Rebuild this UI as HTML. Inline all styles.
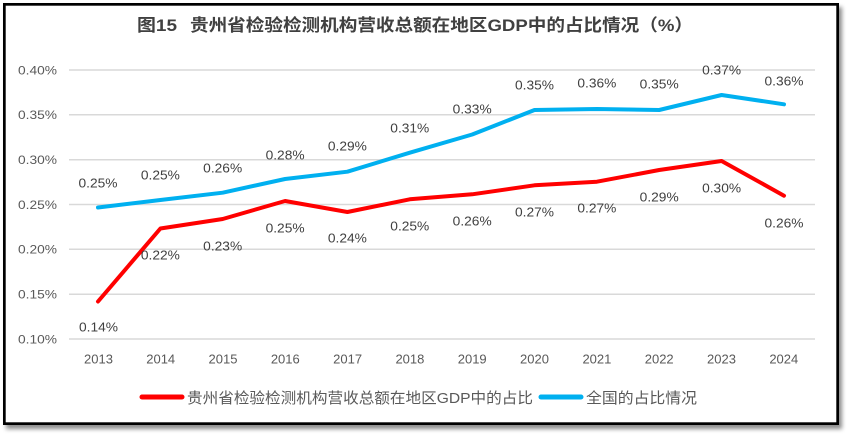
<!DOCTYPE html>
<html>
<head>
<meta charset="utf-8">
<style>
html,body{margin:0;padding:0;background:#fff;}
svg{display:block;}
text{font-family:"Liberation Sans","Noto Sans CJK SC",sans-serif;}
</style>
</head>
<body>
<svg width="849" height="437" viewBox="0 0 849 437" xmlns="http://www.w3.org/2000/svg">
  <defs>
    <filter id="sh" x="-5%" y="-5%" width="112%" height="115%">
      <feDropShadow dx="3" dy="4" stdDeviation="2" flood-color="#000" flood-opacity="0.45"/>
    </filter>
  </defs>
  <rect x="0" y="0" width="849" height="437" fill="#fff"/>
  <rect x="4.35" y="4.35" width="833.3" height="419.3" fill="#fff" stroke="#000" stroke-width="2.7" filter="url(#sh)"/>

  <!-- Title -->
  <text x="137" y="31" font-size="17" font-weight="bold" fill="#404040" textLength="40" lengthAdjust="spacingAndGlyphs">图15</text>
  <text x="190" y="31" font-size="17" font-weight="bold" fill="#404040" textLength="503" lengthAdjust="spacingAndGlyphs">贵州省检验检测机构营收总额在地区GDP中的占比情况（%）</text>

  <!-- Gridlines -->
  <g stroke="#d9d9d9" stroke-width="1.5">
    <line x1="69" y1="70" x2="815" y2="70"/>
    <line x1="69" y1="114.8" x2="815" y2="114.8"/>
    <line x1="69" y1="159.7" x2="815" y2="159.7"/>
    <line x1="69" y1="204.5" x2="815" y2="204.5"/>
    <line x1="69" y1="249.3" x2="815" y2="249.3"/>
    <line x1="69" y1="294.2" x2="815" y2="294.2"/>
    <line x1="69" y1="339" x2="815" y2="339"/>
  </g>

  <!-- Y axis labels -->
  <g font-size="12" fill="#595959" text-anchor="end">
    <text x="57" y="74.3" textLength="39" lengthAdjust="spacingAndGlyphs">0.40%</text>
    <text x="57" y="119.1" textLength="39" lengthAdjust="spacingAndGlyphs">0.35%</text>
    <text x="57" y="164" textLength="39" lengthAdjust="spacingAndGlyphs">0.30%</text>
    <text x="57" y="208.8" textLength="39" lengthAdjust="spacingAndGlyphs">0.25%</text>
    <text x="57" y="253.6" textLength="39" lengthAdjust="spacingAndGlyphs">0.20%</text>
    <text x="57" y="298.5" textLength="39" lengthAdjust="spacingAndGlyphs">0.15%</text>
    <text x="57" y="343.3" textLength="39" lengthAdjust="spacingAndGlyphs">0.10%</text>
  </g>

  <!-- X axis labels -->
  <g font-size="13" fill="#595959" text-anchor="middle">
    <text x="98.5" y="363.5">2013</text>
    <text x="160.7" y="363.5">2014</text>
    <text x="223" y="363.5">2015</text>
    <text x="285.3" y="363.5">2016</text>
    <text x="347.6" y="363.5">2017</text>
    <text x="409.9" y="363.5">2018</text>
    <text x="472.2" y="363.5">2019</text>
    <text x="534.5" y="363.5">2020</text>
    <text x="596.9" y="363.5">2021</text>
    <text x="659.2" y="363.5">2022</text>
    <text x="721.5" y="363.5">2023</text>
    <text x="783.8" y="363.5">2024</text>
  </g>

  <!-- Series: national (blue) -->
  <polyline fill="none" stroke="#00B0F0" stroke-width="4" stroke-linejoin="round" stroke-linecap="round"
    points="98,207.5 160.4,200 222.7,192.7 285.1,179 347.4,171.7 409.8,152.7 472.2,134.5 534.5,110 596.9,109 659.2,110 721.6,95 784,104.3"/>

  <!-- Series: Guizhou (red) -->
  <polyline fill="none" stroke="#FF0000" stroke-width="4" stroke-linejoin="round" stroke-linecap="round"
    points="98,301.5 160.4,228.5 222.7,219 285.1,201 347.4,212 409.8,199.3 472.2,194.3 534.5,185.3 596.9,181.7 659.2,170 721.6,161 784,195.7"/>

  <!-- Blue data labels -->
  <g font-size="13" fill="#404040" text-anchor="middle">
    <text x="98" y="187.3" textLength="39" lengthAdjust="spacingAndGlyphs">0.25%</text>
    <text x="160.4" y="179.6" textLength="39" lengthAdjust="spacingAndGlyphs">0.25%</text>
    <text x="222.7" y="172.6" textLength="39" lengthAdjust="spacingAndGlyphs">0.26%</text>
    <text x="285.1" y="159.6" textLength="39" lengthAdjust="spacingAndGlyphs">0.28%</text>
    <text x="347.4" y="150.6" textLength="39" lengthAdjust="spacingAndGlyphs">0.29%</text>
    <text x="409.8" y="132.6" textLength="39" lengthAdjust="spacingAndGlyphs">0.31%</text>
    <text x="472.2" y="113.6" textLength="39" lengthAdjust="spacingAndGlyphs">0.33%</text>
    <text x="534.5" y="89.6" textLength="39" lengthAdjust="spacingAndGlyphs">0.35%</text>
    <text x="596.9" y="87.6" textLength="39" lengthAdjust="spacingAndGlyphs">0.36%</text>
    <text x="659.2" y="88.6" textLength="39" lengthAdjust="spacingAndGlyphs">0.35%</text>
    <text x="721.6" y="74.6" textLength="39" lengthAdjust="spacingAndGlyphs">0.37%</text>
    <text x="784" y="85.3" textLength="39" lengthAdjust="spacingAndGlyphs">0.36%</text>
  </g>

  <!-- Red data labels -->
  <g font-size="13" fill="#404040" text-anchor="middle">
    <text x="98.5" y="331.6" textLength="39" lengthAdjust="spacingAndGlyphs">0.14%</text>
    <text x="160.4" y="259.6" textLength="39" lengthAdjust="spacingAndGlyphs">0.22%</text>
    <text x="222.7" y="250.6" textLength="39" lengthAdjust="spacingAndGlyphs">0.23%</text>
    <text x="285.1" y="232.6" textLength="39" lengthAdjust="spacingAndGlyphs">0.25%</text>
    <text x="347.4" y="242.6" textLength="39" lengthAdjust="spacingAndGlyphs">0.24%</text>
    <text x="409.8" y="230.3" textLength="39" lengthAdjust="spacingAndGlyphs">0.25%</text>
    <text x="472.2" y="225.6" textLength="39" lengthAdjust="spacingAndGlyphs">0.26%</text>
    <text x="534.5" y="216.6" textLength="39" lengthAdjust="spacingAndGlyphs">0.27%</text>
    <text x="596.9" y="212.6" textLength="39" lengthAdjust="spacingAndGlyphs">0.27%</text>
    <text x="659.2" y="201.3" textLength="39" lengthAdjust="spacingAndGlyphs">0.29%</text>
    <text x="721.6" y="192.3" textLength="39" lengthAdjust="spacingAndGlyphs">0.30%</text>
    <text x="784" y="227.3" textLength="39" lengthAdjust="spacingAndGlyphs">0.26%</text>
  </g>

  <!-- Legend -->
  <line x1="142" y1="397" x2="182" y2="397" stroke="#FF0000" stroke-width="5" stroke-linecap="round"/>
  <text x="187" y="403" font-size="15" fill="#595959" textLength="346" lengthAdjust="spacingAndGlyphs">贵州省检验检测机构营收总额在地区GDP中的占比</text>
  <line x1="541" y1="397" x2="581" y2="397" stroke="#00B0F0" stroke-width="5" stroke-linecap="round"/>
  <text x="586" y="403" font-size="15" fill="#595959" textLength="111" lengthAdjust="spacingAndGlyphs">全国的占比情况</text>
</svg>
</body>
</html>
